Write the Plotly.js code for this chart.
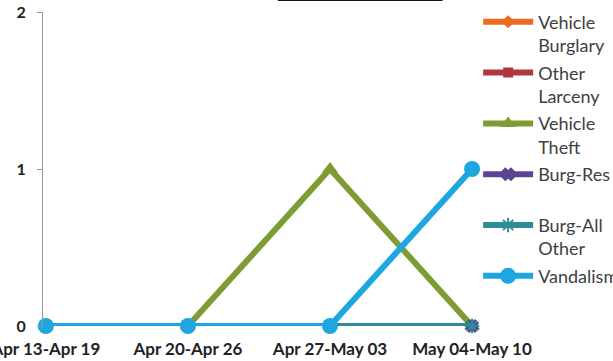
<!DOCTYPE html>
<html>
<head>
<meta charset="utf-8">
<script src="https://cdn.plot.ly/plotly-3.0.1.min.js"></script>
<style>html,body{margin:0;padding:0;background:#fff;}#chart{width:613px;height:361px;}</style>
</head>
<body>
<div id="chart"></div>
<script>
const weeks = ["Apr 13-Apr 19", "Apr 20-Apr 26", "Apr 27-May 03", "May 04-May 10"];
const seriesNames = ["Vehicle<br>Burglary", "Other<br>Larceny", "Vehicle<br>Theft", "Burg-Res<br>\u00a0", "Burg-All<br>Other", "Vandalism"];
const vehicleBurglary = [0, 0, 0, 0];
const otherLarceny = [0, 0, 0, 0];
const vehicleTheft = [0, 0, 1, 0];
const burgRes = [0, 0, 0, 0];
const burgAllOther = [0, 0, 0, 0];
const vandalism = [0, 0, 0, 1];
const yTicks = [0, 1, 2];

const seriesValues = [vehicleBurglary, otherLarceny, vehicleTheft, burgRes, burgAllOther, vandalism];
const colors = ["#EE6A1F", "#B2343E", "#7E9C34", "#5B4593", "#2E8C98", "#1DA6DF"];
const symbols = ["diamond", "square", "triangle-up", "x", "asterisk", "circle"];
const sizes = [10, 10, 14, 10, 12, 16];

const traces = seriesNames.map((n, i) => ({
  x: weeks, y: seriesValues[i], name: n, type: "scatter", mode: "lines+markers",
  line: {color: colors[i], width: 6},
  marker: {symbol: symbols[i], size: sizes[i], color: colors[i], line: {color: colors[i], width: symbols[i]==="asterisk"||symbols[i]==="x" ? 2 : 0}},
  cliponaxis: false, legendgroup: "g" + i
}));

const fontFam = "Lato, 'Open Sans', sans-serif";
const layout = {
  width: 613, height: 361,
  margin: {l: 43, r: 131, t: 12, b: 35, autoexpand: false},
  paper_bgcolor: "#fff", plot_bgcolor: "#fff",
  showlegend: true,
  legend: {xref: "container", yref: "container", x: 0.78, xanchor: "left", y: 0.99, yanchor: "top", valign: "top",
    font: {family: fontFam, size: 18, color: "#404040"}, maxheight: 1,
    itemwidth: 50, tracegroupgap: 1, bgcolor: "rgba(0,0,0,0)"},
  xaxis: {type: "category", range: [-0.02, 3.07], showgrid: false, zeroline: false,
    showline: false, ticks: "outside", ticklen: 8, tickcolor: "rgba(0,0,0,0)",
    tickfont: {family: fontFam, size: 17, color: "#222", weight: "bold"}},
  yaxis: {range: [0, 2], tickvals: yTicks, showgrid: false, zeroline: false,
    showline: true, linecolor: "#999", linewidth: 1, ticks: "outside", ticklen: 5, tickcolor: "#999",
    ticklabelstandoff: 8,
    tickfont: {family: fontFam, size: 16, color: "#222", weight: "bold"}},
  shapes: [{type: "line", xref: "paper", yref: "paper", x0: 0.535, x1: 0.91, y0: 1.04, y1: 1.04,
    line: {color: "#111", width: 3}}]
};

Plotly.newPlot("chart", traces, layout, {displayModeBar: false, staticPlot: true});
</script>
</body>
</html>
